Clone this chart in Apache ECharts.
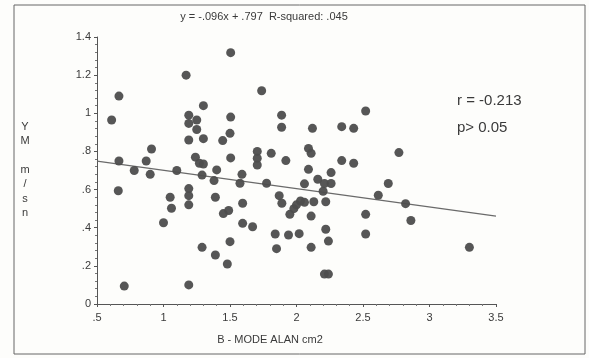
<!DOCTYPE html>
<html>
<head>
<meta charset="utf-8">
<script src="https://cdn.jsdelivr.net/npm/echarts@6/dist/echarts.min.js"></script>
<style>
  html, body { margin: 0; padding: 0; background: #fdfdfb; }
  #chart { width: 589px; height: 358px; }
</style>
</head>
<body>
<div id="chart"></div>
<script>
// B-mode area (cm2) vs Vm (m/sn)
const areaValues = [
  0.61, 0.665, 0.665, 0.66, 0.705, 0.78, 0.87, 0.90, 0.91, 1.00,
  1.05, 1.06, 1.10, 1.17, 1.19, 1.19, 1.25, 1.25, 1.19, 1.19,
  1.19, 1.19, 1.19, 1.24, 1.27, 1.30, 1.29, 1.30, 1.30, 1.29,
  1.38, 1.39, 1.39, 1.40, 1.445, 1.45, 1.49, 1.48, 1.50, 1.505,
  1.505, 1.50, 1.505, 1.59, 1.575, 1.595, 1.595, 1.67, 1.705, 1.705,
  1.705, 1.738, 1.775, 1.81, 1.84, 1.85, 1.87, 1.89, 1.888, 1.888,
  1.92, 1.94, 1.95, 1.98, 2.00, 2.03, 2.02, 2.06, 2.06, 2.09,
  2.11, 2.09, 2.12, 2.11, 2.11, 2.13, 2.16, 2.20, 2.21, 2.22,
  2.22, 2.24, 2.21, 2.24, 2.26, 2.26, 2.34, 2.34, 2.43, 2.43,
  2.52, 2.52, 2.52, 2.615, 2.69, 2.77, 2.82, 2.86, 3.30
];
const vmValues = [
  0.965, 1.09, 0.75, 0.594, 0.094, 0.70, 0.75, 0.68, 0.813, 0.426,
  0.56, 0.502, 0.70, 1.20, 0.99, 0.947, 0.965, 0.915, 0.86, 0.605,
  0.568, 0.52, 0.10, 0.77, 0.738, 0.734, 0.676, 1.04, 0.867, 0.297,
  0.647, 0.56, 0.257, 0.703, 0.857, 0.474, 0.49, 0.21, 0.327, 1.318,
  0.98, 0.895, 0.766, 0.68, 0.633, 0.528, 0.423, 0.405, 0.80, 0.764,
  0.729, 1.118, 0.633, 0.79, 0.367, 0.29, 0.568, 0.528, 0.99, 0.927,
  0.752, 0.362, 0.47, 0.50, 0.52, 0.54, 0.369, 0.63, 0.533, 0.816,
  0.79, 0.706, 0.921, 0.461, 0.297, 0.536, 0.654, 0.591, 0.632, 0.536,
  0.392, 0.33, 0.157, 0.157, 0.689, 0.632, 0.93, 0.752, 0.921, 0.738,
  1.012, 0.47, 0.367, 0.57, 0.632, 0.794, 0.526, 0.438, 0.297
];

// fitted line from the header text
const fitSlope = -0.096;
const fitIntercept = 0.797;
const xRange = [0.5, 3.5];

const headerText = "y = -.096x + .797  R-squared: .045";
const statLines = ["r = -0.213", "p> 0.05"];
const xName = "B - MODE ALAN cm2";
const yName = ["Y", "M", "", "m", "/", "s", "n"];

const points = areaValues.map((x, i) => [x, vmValues[i]]);
const fitLine = xRange.map((x) => [x, fitIntercept + fitSlope * x]);

// drop the leading zero like the original (".5", ".8")
const shortNum = (v) => String(+v.toFixed(2)).replace(/^0\./, ".");

const ink = "#3a3a3a";
const font = "Liberation Sans";

const chart = echarts.init(document.getElementById("chart"));

chart.setOption({
  backgroundColor: "#fdfdfb",
  animation: false,
  grid: { left: 97, right: 93, top: 37, bottom: 54 },
  xAxis: {
    type: "value",
    min: 0.5,
    max: 3.5,
    interval: 0.5,
    axisLine: { lineStyle: { color: "#555", width: 1 } },
    axisTick: { length: 3, lineStyle: { color: "#555" } },
    minorTick: { show: true, splitNumber: 5, length: 2, lineStyle: { color: "#777" } },
    splitLine: { show: false },
    axisLabel: { color: ink, fontFamily: font, fontSize: 11, margin: 8, formatter: shortNum },
  },
  yAxis: {
    type: "value",
    min: 0,
    max: 1.4,
    interval: 0.2,
    axisLine: { show: true, lineStyle: { color: "#555", width: 1 } },
    axisTick: { show: true, length: 3, lineStyle: { color: "#555" } },
    minorTick: { show: true, splitNumber: 5, length: 2, lineStyle: { color: "#777" } },
    splitLine: { show: false },
    axisLabel: { color: ink, fontFamily: font, fontSize: 11, margin: 6, formatter: shortNum },
  },
  series: [
    {
      type: "scatter",
      data: points,
      symbolSize: 9,
      itemStyle: { color: "#4d4d4d", opacity: 0.95 },
      z: 3,
    },
    {
      type: "line",
      data: fitLine,
      symbol: "none",
      lineStyle: { color: "#6a6a6a", width: 1.2 },
      z: 2,
    },
  ],
  graphic: [
    {
      type: "rect",
      shape: { x: 14, y: 5, width: 571, height: 349 },
      style: { fill: null, stroke: "#666", lineWidth: 1 },
      silent: true,
    },
    {
      type: "text",
      x: 264,
      y: 17,
      style: {
        text: headerText,
        fill: ink,
        font: "11px " + font,
        textAlign: "center",
        textVerticalAlign: "middle",
      },
    },
    {
      type: "text",
      x: 457,
      y: 87,
      style: {
        text: statLines.join("\n"),
        fill: ink,
        font: "15px " + font,
        lineHeight: 27,
      },
    },
    {
      type: "text",
      x: 270,
      y: 340,
      style: {
        text: xName,
        fill: ink,
        font: "11px " + font,
        textAlign: "center",
        textVerticalAlign: "middle",
      },
    },
    {
      type: "text",
      x: 25,
      y: 120,
      style: {
        text: yName.join("\n"),
        fill: ink,
        font: "11px " + font,
        textAlign: "center",
        lineHeight: 14.3,
      },
    },
  ],
});
</script>
</body>
</html>
